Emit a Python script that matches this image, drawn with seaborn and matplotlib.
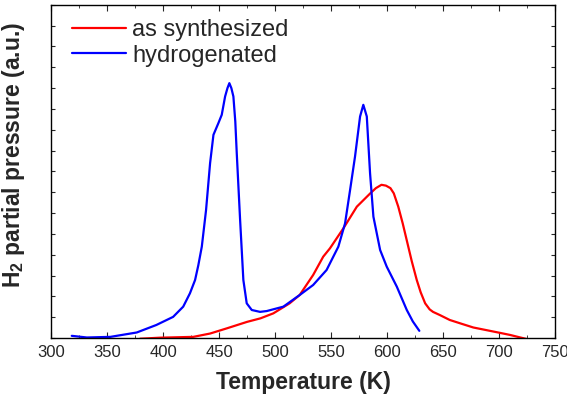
import pandas as pd
import seaborn as sns
import matplotlib.pyplot as plt
from matplotlib.ticker import MultipleLocator

# as synthesized (red)
t_syn = [379.5, 397, 427, 442, 457, 475, 487, 498.5, 513, 522, 534, 543, 549, 561, 573,
         585, 590, 595, 599, 603, 606, 610, 614, 618, 622, 626.5, 630, 634, 638, 641,
         647, 656, 667, 677, 689, 701, 710, 719, 729]
p_syn = [-0.03, 0.02, 0.06, 0.22, 0.47, 0.78, 0.95, 1.19, 1.67, 2.07, 3.03, 3.91, 4.31, 5.27, 6.31,
         6.95, 7.2, 7.36, 7.32, 7.2, 6.95, 6.31, 5.5, 4.6, 3.7, 2.79, 2.2, 1.67, 1.38, 1.26,
         1.11, 0.87, 0.68, 0.51, 0.38, 0.25, 0.15, 0.03, -0.1]

# hydrogenated (blue)
t_hyd = [318.5, 332, 353, 376.5, 394, 409, 418, 424, 428.6, 431.5, 434.6, 438.4, 442, 445,
         449.4, 452.4, 455.4, 457.5, 459.2, 461, 462.8, 464.5, 465.8, 468.8, 471.7, 474.7,
         479.2, 486.6, 492.6, 507.4, 522, 534, 546, 549, 556.5, 562.5, 567, 571.4, 575.9,
         578.8, 581.9, 584.8, 587.8, 593.8, 599.7, 608.7, 617.6, 623, 628.8]
p_hyd = [0.11, 0.03, 0.06, 0.27, 0.63, 1.02, 1.51, 2.15, 2.79, 3.5, 4.39, 6.15, 8.4, 9.76,
         10.32, 10.72, 11.6, 12.0, 12.24, 12.0, 11.6, 10.4, 8.88, 5.67, 2.79, 1.67,
         1.35, 1.26, 1.30, 1.51, 2.07, 2.55, 3.27, 3.59, 4.39, 5.51, 7.12, 8.72, 10.64,
         11.2, 10.64, 7.92, 5.83, 4.23, 3.43, 2.47, 1.35, 0.8, 0.35]

df = pd.concat([
    pd.DataFrame({'T': t_syn, 'P': p_syn, 'sample': 'as synthesized'}),
    pd.DataFrame({'T': t_hyd, 'P': p_hyd, 'sample': 'hydrogenated'}),
])

sns.set_style("ticks")
plt.rcParams['font.family'] = ['Liberation Sans', 'DejaVu Sans']
plt.rcParams['mathtext.fontset'] = 'custom'
plt.rcParams['mathtext.rm'] = 'Liberation Sans'
plt.rcParams['mathtext.bf'] = 'Liberation Sans:bold'

fig = plt.figure(figsize=(5.67, 4.03), dpi=100)
ax = fig.add_axes([0.09, 0.161, 0.889, 0.827])
sns.lineplot(data=df, x='T', y='P', hue='sample', hue_order=['as synthesized', 'hydrogenated'],
             palette=['#ff0000', '#0000ff'], linewidth=1.6, sort=False, estimator=None, ax=ax)

ax.set_xlim(300, 750)
ax.set_ylim(0, 16)
ax.xaxis.set_major_locator(MultipleLocator(50))
ax.xaxis.set_minor_locator(MultipleLocator(25))
ax.yaxis.set_major_locator(MultipleLocator(1))
ax.tick_params(axis='both', which='both', direction='in', top=True, right=True)
ax.tick_params(axis='x', which='major', length=4, labelsize=12, pad=5)
ax.tick_params(axis='x', which='minor', length=2.5)
ax.tick_params(axis='y', length=3, labelleft=False)
for s in ax.spines.values():
    s.set_linewidth(1.0)
    s.set_color('black')

ax.set_xlabel("Temperature (K)", fontsize=16.5, fontweight='bold', labelpad=8)
ax.set_ylabel(r"$\mathbf{H_2}$ partial pressure (a.u.)", fontsize=16.5, fontweight='bold')
ax.yaxis.set_label_coords(-0.048, 0.55)

ax.legend(loc='upper left', frameon=False, fontsize=17, handlelength=2.3, handletextpad=0.25,
          labelspacing=0.15, borderaxespad=0.2, bbox_to_anchor=(0.013, 1.0))

plt.savefig('out.png', dpi=100)
plt.close()
